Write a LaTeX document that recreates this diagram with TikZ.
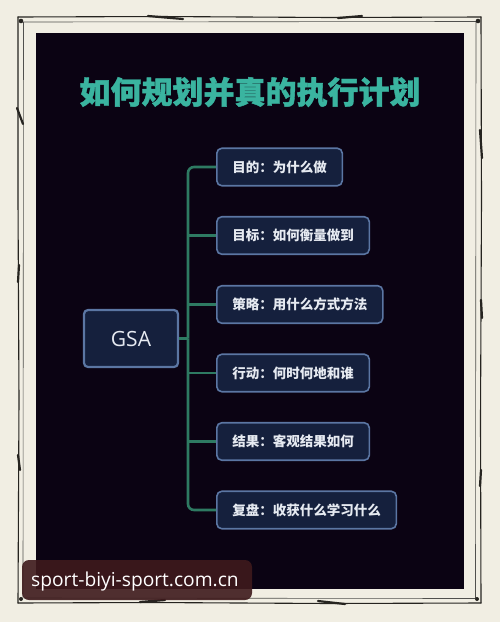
\documentclass[tikz,border=0pt]{standalone}
\usepackage{fontspec}
\setmainfont{Noto Sans CJK SC}
\newfontfamily\heavycjk{Noto Sans CJK SC}[BoldFeatures={FakeBold=1.3}]
\newfontfamily\latinsans{Open Sans}
\definecolor{bgcream}{HTML}{F1EEE3}
\definecolor{panel}{HTML}{0B0313}
\definecolor{boxfill}{HTML}{15203D}
\definecolor{boxline}{HTML}{5B76A3}
\definecolor{boxtext}{HTML}{E6EAF1}
\definecolor{conncol}{HTML}{2E7A62}
\definecolor{titlecol}{HTML}{3AB4A0}
\definecolor{framecol}{HTML}{262420}
\definecolor{wmcol}{HTML}{3E1A1C}
\tikzset{
  frameline/.style={draw=framecol, line width=1.1pt, line cap=round},
  framethin/.style={draw=framecol!80, line width=0.6pt, line cap=round},
  blot/.style={draw=framecol, line width=2.2pt, line cap=round},
  titlestyle/.style={text=titlecol, font=\heavycjk\fontsize{31}{34}\selectfont\bfseries, inner sep=0pt},
  gsabox/.style={draw=boxline, line width=2.2pt, fill=boxfill, rounded corners=4pt,
    minimum width=94pt, minimum height=57pt, text=boxtext, font=\latinsans\fontsize{21}{23}\selectfont},
  branchbox/.style={draw=boxline, line width=1.6pt, fill=boxfill, rounded corners=5pt,
    minimum height=37.5pt, inner xsep=15.5pt, anchor=west, text=boxtext,
    font=\fontsize{13.5}{15}\selectfont\bfseries},
  conn/.style={draw=conncol, line width=2.6pt},
  wmtext/.style={text=white, font=\latinsans\fontsize{19.2}{21}\selectfont, inner sep=0pt, anchor=west}
}
\begin{document}
\begin{tikzpicture}[x=1pt,y=-1pt]
\useasboundingbox (0,0) rectangle (500,622);
\fill[bgcream] (0,0) rectangle (500,622);
% hand-drawn frame
\draw[frameline] (18,17) -- (160,16.5) -- (330,17.5) -- (481,17);
\draw[frameline] (481,17) -- (481.5,200) -- (480.5,420) -- (481,603);
\draw[frameline] (481,603) -- (330,603.5) -- (150,602.5) -- (18,603);
\draw[frameline] (18,603) -- (19,400) -- (18,200) -- (18,17);
\draw[framethin] (24,22) -- (476,21.5);
\draw[framethin] (476,22) -- (475.5,598);
\draw[framethin] (475,598.5) -- (24,598);
\draw[framethin] (23,598) -- (23.5,22);
\draw[blot] (148,16) -- (183,19);
\draw[blot] (338,18) -- (362,16);
\draw[blot] (17,108) -- (23,124);
\draw[blot] (19,265) -- (18,282);
\draw[blot] (18,455) -- (20,470);
\draw[blot] (480,130) -- (482,158);
\draw[blot] (481,300) -- (482,318);
\draw[blot] (481,470) -- (480,486);
\draw[blot] (140,602) -- (165,600);
\draw[blot] (318,601) -- (345,604);
\fill[framecol] (21,21) circle (2.3pt);
\fill[framecol] (478,21) circle (2.3pt);
\fill[framecol] (21,599) circle (2pt);
\fill[framecol] (477,599) circle (2pt);
% panel
\fill[panel] (36,33) rectangle (464,589);
% title
\node[titlestyle] (title) at (250,92) {如何规划并真的执行计划};
% root
\node[gsabox] (gsa) at (131,338.5) {GSA};
% branches
\node[branchbox] (b1) at (216,167) {目的：为什么做};
\node[branchbox] (b2) at (216,235.5) {目标：如何衡量做到};
\node[branchbox] (b3) at (216,304.5) {策略：用什么方式方法};
\node[branchbox] (b4) at (216,373) {行动：何时何地和谁};
\node[branchbox] (b5) at (216,441.5) {结果：客观结果如何};
\node[branchbox] (b6) at (216,510) {复盘：收获什么学习什么};
% connectors
\coordinate (j) at (188,338.5);
\draw[conn] (gsa.east) -- (j);
\draw[conn, rounded corners=6pt] (j) |- (b1.west);
\draw[conn, rounded corners=6pt] (j) |- (b6.west);
\draw[conn] (b2.west -| j) -- (b2.west);
\draw[conn] (b3.west -| j) -- (b3.west);
\draw[conn] (b4.west -| j) -- (b4.west);
\draw[conn] (b5.west -| j) -- (b5.west);
% watermark
\fill[wmcol, opacity=0.9, rounded corners=7pt] (22,560) rectangle (252,600);
\node[wmtext] (wm) at (31,582) {sport-biyi-sport.com.cn};
\end{tikzpicture}
\end{document}
